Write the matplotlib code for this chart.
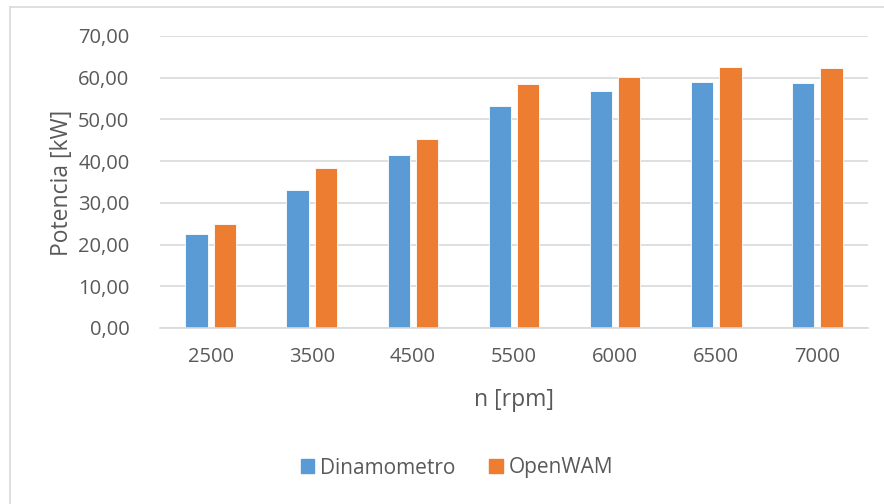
import matplotlib
matplotlib.use("Agg")
import matplotlib.pyplot as plt
from matplotlib.lines import Line2D
import numpy as np

categories = ["2500", "3500", "4500", "5500", "6000", "6500", "7000"]
dinamometro = [22.5, 33.2, 41.5, 53.1, 56.7, 59.0, 58.7]
openwam = [24.9, 38.4, 45.3, 58.4, 60.1, 62.5, 62.3]
yticks = [0, 10, 20, 30, 40, 50, 60, 70]

plt.rcParams['font.family'] = ['Open Sans', 'DejaVu Sans']
W, H = 884, 504
fig = plt.figure(figsize=(W/100, H/100), dpi=100)
ax = fig.add_axes([160/W, (H-328)/H, (868-160)/W, (328-36)/H])

x = np.arange(len(categories))
bw = 0.22
off = 0.14
blue = "#5B9BD5"
orange = "#ED7D31"
ax.bar(x - off, dinamometro, bw, color=blue, edgecolor="#ffffff", linewidth=0.6, label="Dinamometro", zorder=3)
ax.bar(x + off, openwam, bw, color=orange, edgecolor="#ffffff", linewidth=0.6, label="OpenWAM", zorder=3)

ax.set_xlim(-0.5, len(categories) - 0.5)
ax.set_ylim(0, 70)
ax.set_yticks(yticks)
ax.set_yticklabels([f"{v:.2f}".replace(".", ",") for v in yticks])
ax.set_xticks(x)
ax.set_xticklabels(categories)
ax.tick_params(axis='both', length=0, labelsize=14.5, colors="#595959")
ax.tick_params(axis='y', pad=22)
ax.tick_params(axis='x', pad=14)
ax.grid(axis='y', color="#d9d9d9", linewidth=1.2, zorder=0)
for s in ["top", "right", "left"]:
    ax.spines[s].set_visible(False)
ax.spines["bottom"].set_color("#d9d9d9")
ax.spines["bottom"].set_linewidth(1.2)
ax.spines["bottom"].set_zorder(4)

fig.text(62/W, 1 - 183/H, "Potencia [kW]", rotation=90, ha="center", va="center", fontsize=16.5, color="#595959")
fig.text(514/W, 1 - 400/H, "n [rpm]", ha="center", va="center", fontsize=16.5, color="#595959")

handles = [plt.Rectangle((0, 0), 1, 1, color=blue), plt.Rectangle((0, 0), 1, 1, color=orange)]
fig.legend(handles, ["Dinamometro", "OpenWAM"], loc="center", bbox_to_anchor=(457/W, 1 - 468/H),
           ncol=2, frameon=False, fontsize=15, labelcolor="#595959",
           handlelength=0.65, handleheight=0.65, handletextpad=0.3, columnspacing=1.6)

# chart border
fig.add_artist(Line2D([10/W, 1], [1 - 7/H, 1 - 7/H], transform=fig.transFigure, color="#d9d9d9", linewidth=1.2))
fig.add_artist(Line2D([10/W, 10/W], [0, 1 - 7/H], transform=fig.transFigure, color="#d9d9d9", linewidth=1.2))

fig.savefig("out.png", dpi=100, facecolor="white")
